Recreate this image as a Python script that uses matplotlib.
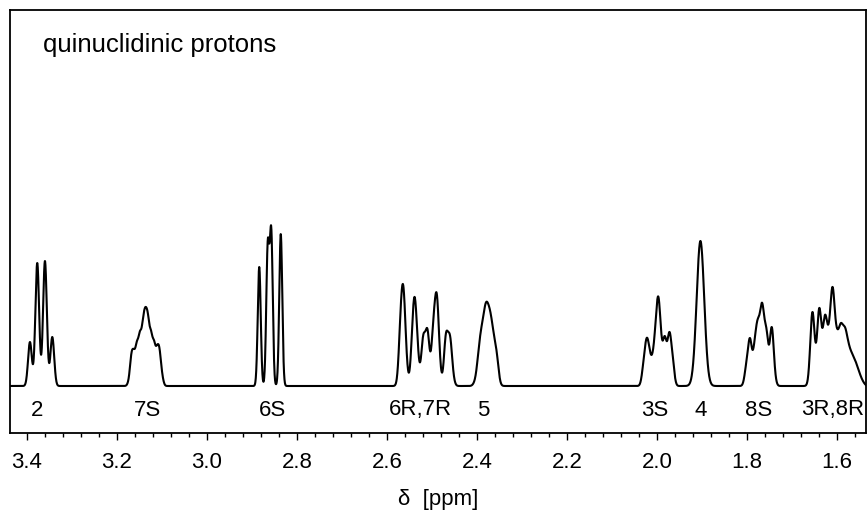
import numpy as np
import matplotlib
matplotlib.use("Agg")
import matplotlib.pyplot as plt

# DATA: line positions [ppm], peak heights [a.u.], line width sigma [ppm]
shift_2 = [3.3927, 3.3765, 3.3594, 3.3431]
height_2 = [44, 123, 125, 49]
sigma_2 = 0.0042

shift_7s = [3.1728, 3.1673, 3.1617, 3.1551, 3.1484, 3.1417, 3.1362, 3.1306, 3.1240, 3.1173, 3.1106, 3.1051, 3.0995]
height_7s = [10, 33, 37, 45, 55, 68, 79, 72, 56, 46, 41, 38, 15]
sigma_7s = 0.0034

shift_6s = [2.8835, 2.8646, 2.8568, 2.8357]
height_6s = [119, 146, 159, 152]
sigma_6s = 0.0033

shift_6r7r = [2.5694, 2.5632, 2.5577, 2.5428, 2.5377, 2.5321, 2.5193, 2.5099,
              2.4970, 2.4895, 2.4844, 2.4688, 2.4600, 2.4544]
height_6r7r = [78, 99, 50, 69, 88, 50, 51, 57, 66, 93, 55, 53, 51, 25]
sigma_6r7r = 0.0044

shift_5 = [2.4033, 2.3956, 2.3889, 2.3822, 2.3771, 2.3711, 2.3645, 2.3567, 2.3500]
height_5 = [10, 40, 62, 80, 84, 76, 58, 36, 10]
sigma_5 = 0.0046

shift_3s = [2.0296, 2.0231, 2.0169, 2.0091, 2.0025, 1.9969, 1.9914, 1.9829, 1.9729, 1.9658]
height_3s = [28, 48, 38, 36, 70, 89, 58, 50, 54, 32]
sigma_3s = 0.0042

shift_4 = [1.9037]
height_4 = [145]
sigma_4 = 0.0084

shift_8s = [1.8015, 1.7937, 1.7837, 1.7771, 1.7715, 1.7664, 1.7615, 1.7566, 1.7455, 1.7400]
height_8s = [25, 48, 45, 66, 74, 83, 68, 56, 59, 30]
sigma_8s = 0.0042

shift_3r8r = [1.6549, 1.6398, 1.6272, 1.6183, 1.6101, 1.6005, 1.5917, 1.5828,
              1.5750, 1.5672, 1.5594, 1.5517, 1.5439]
height_3r8r = [74, 78, 71, 64, 99, 58, 63, 59, 44, 33, 25, 15, 6]
sigma_3r8r = 0.0048

label_names = ["2", "7S", "6S", "6R,7R", "5", "3S", "4", "8S", "3R,8R"]
label_pos = [3.3763, 3.1320, 2.8530, 2.5250, 2.3867, 2.0050, 1.9030, 1.7750, 1.6095]

# BUILD SPECTRUM (sum of gaussian lines, amplitudes solved so peaks hit read heights)
groups = [(shift_2, height_2, sigma_2), (shift_7s, height_7s, sigma_7s), (shift_6s, height_6s, sigma_6s),
          (shift_6r7r, height_6r7r, sigma_6r7r), (shift_5, height_5, sigma_5), (shift_3s, height_3s, sigma_3s),
          (shift_4, height_4, sigma_4), (shift_8s, height_8s, sigma_8s), (shift_3r8r, height_3r8r, sigma_3r8r)]
pos = np.concatenate([g[0] for g in groups])
hts = np.concatenate([g[1] for g in groups]).astype(float)
sig = np.concatenate([[g[2]] * len(g[0]) for g in groups])

A = np.exp(-(pos[:, None] - pos[None, :]) ** 2 / (2 * sig[None, :] ** 2))
amps = np.clip(np.linalg.lstsq(A, hts, rcond=None)[0], 0, None)

ppm = np.linspace(3.45, 1.52, 6000)
spec = (amps[None, :] * np.exp(-(ppm[:, None] - pos[None, :]) ** 2 / (2 * sig[None, :] ** 2))).sum(axis=1)

# PLOT
plt.rcParams['font.family'] = ['Liberation Sans', 'DejaVu Sans']
fig = plt.figure(figsize=(8.67, 5.18), dpi=100)
ax = fig.add_axes([10 / 867, 85 / 518, 856 / 867, 423 / 518])
ax.plot(ppm, spec, color="black", lw=1.5)

ax.set_xlim(3.437, 1.536)
ax.set_ylim(-47, 376)
ax.set_yticks([])
ax.set_xticks(np.arange(1.6, 3.41, 0.2))
ax.set_xticks(np.arange(1.56, 3.44, 0.04), minor=True)
ax.set_xticklabels([f"{v:.1f}" for v in np.arange(1.6, 3.41, 0.2)])
ax.tick_params(axis="x", which="major", direction="out", length=5, width=1, labelsize=16, pad=9)
ax.tick_params(axis="x", which="minor", direction="out", length=3, width=1)
for s in ax.spines.values():
    s.set_linewidth(1.3)

for name, x in zip(label_names, label_pos):
    ax.text(x, -24, name, ha="center", va="center", fontsize=16)

ax.text(33 / 856, 0.917, "quinuclidinic protons", transform=ax.transAxes, ha="left", va="center", fontsize=18.5)
ax.set_xlabel("\u03b4  [ppm]", fontsize=16, labelpad=11)

fig.savefig("out.png", dpi=100)
